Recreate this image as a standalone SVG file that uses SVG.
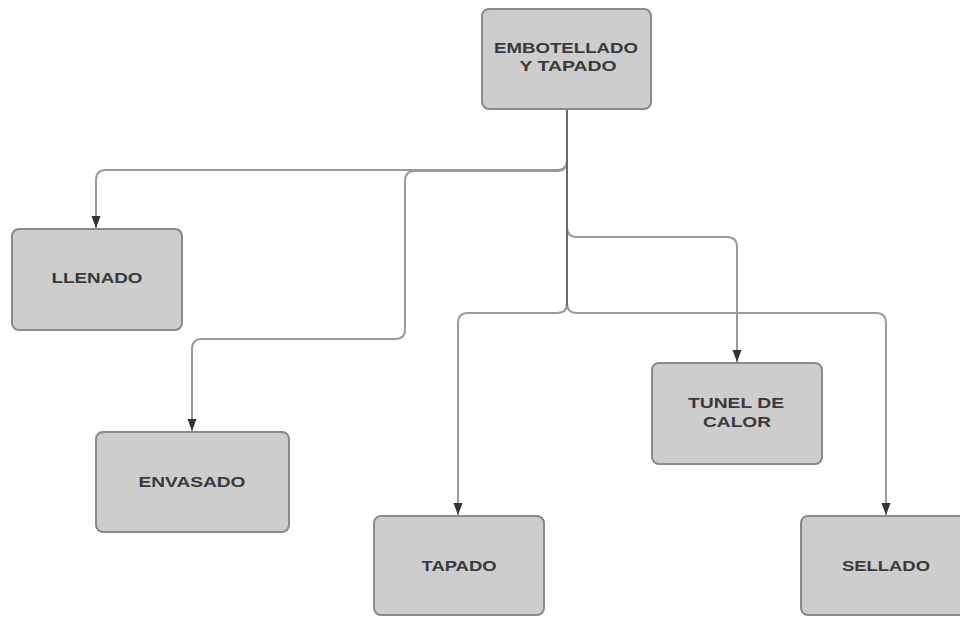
<svg xmlns="http://www.w3.org/2000/svg" width="960" height="617" viewBox="0 0 960 617">
  <style>
    .box { fill: #cdcdcd; stroke: #8a8a8a; stroke-width: 2; }
    .lbl { font-family: "Liberation Sans", Arial, sans-serif; font-weight: bold; font-size: 15px; fill: #3a3a3a; text-anchor: middle; }
    .wire { fill: none; stroke: #9a9a9a; stroke-width: 2; marker-end: url(#arrow); }
    .trunk { fill: none; stroke: #6a6a6a; stroke-width: 2; }
  </style>
  <defs>
    <marker id="arrow" viewBox="0 0 12 10" refX="12" refY="5" markerWidth="12" markerHeight="10" markerUnits="userSpaceOnUse" orient="auto">
      <path d="M0,0.5 L12,5 L0,9.5 Z" fill="#333333"/>
    </marker>
  </defs>
  <rect width="960" height="617" fill="#ffffff"/>

  <!-- connectors from the main process down to each step -->
  <g id="connectors">
    <path class="wire" d="M567,109 V160 Q567,170 557,170 H106 Q96,170 96,180 V228"/>
    <path class="wire" d="M567,109 V161 Q567,171 557,171 H415 Q405,171 405,181 V329 Q405,339 395,339 H202 Q192,339 192,349 V431"/>
    <path class="wire" d="M567,109 V303 Q567,313 557,313 H468 Q458,313 458,323 V515"/>
    <path class="wire" d="M567,109 V227 Q567,237 577,237 H727 Q737,237 737,247 V362"/>
    <path class="wire" d="M567,109 V303 Q567,313 577,313 H876 Q886,313 886,323 V515"/>
    <!-- shared vertical run where the routes overlap -->
    <path class="trunk" d="M567,109 V306"/>
  </g>

  <g id="embotellado">
    <rect class="box" x="482" y="9" width="169" height="100" rx="7"/>
    <text class="lbl" x="566" y="53" textLength="144" lengthAdjust="spacingAndGlyphs">EMBOTELLADO</text>
    <text class="lbl" x="568" y="71" textLength="97" lengthAdjust="spacingAndGlyphs">Y TAPADO</text>
  </g>

  <g id="llenado">
    <rect class="box" x="12" y="229" width="170" height="101" rx="7"/>
    <text class="lbl" x="97" y="283" textLength="91" lengthAdjust="spacingAndGlyphs">LLENADO</text>
  </g>

  <g id="envasado">
    <rect class="box" x="96" y="432" width="193" height="100" rx="7"/>
    <text class="lbl" x="192" y="487" textLength="107" lengthAdjust="spacingAndGlyphs">ENVASADO</text>
  </g>

  <g id="tapado">
    <rect class="box" x="374" y="516" width="170" height="99" rx="7"/>
    <text class="lbl" x="459" y="571" textLength="75" lengthAdjust="spacingAndGlyphs">TAPADO</text>
  </g>

  <g id="tunel">
    <rect class="box" x="652" y="363" width="170" height="101" rx="7"/>
    <text class="lbl" x="736" y="408" textLength="96" lengthAdjust="spacingAndGlyphs">TUNEL DE</text>
    <text class="lbl" x="737" y="427" textLength="68" lengthAdjust="spacingAndGlyphs">CALOR</text>
  </g>

  <g id="sellado">
    <rect class="box" x="801" y="516" width="171" height="99" rx="7"/>
    <text class="lbl" x="886" y="571" textLength="88" lengthAdjust="spacingAndGlyphs">SELLADO</text>
  </g>
</svg>
